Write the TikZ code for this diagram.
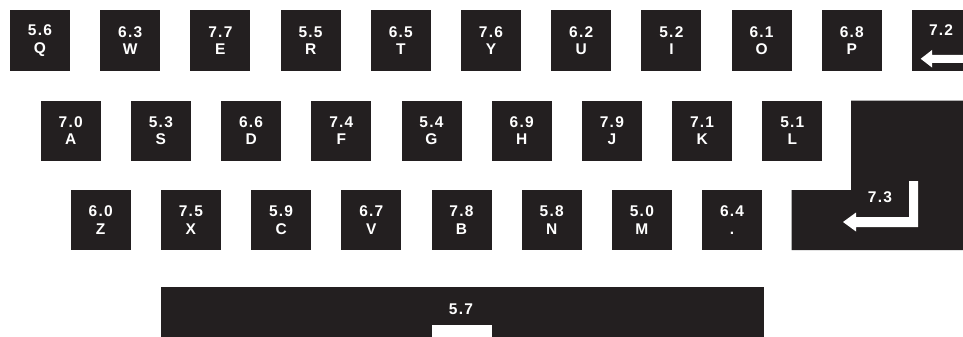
\documentclass[tikz,border=0pt]{standalone}
\usepackage{fontspec}
\setmainfont{Liberation Sans}
\newfontfamily\keyfont[LetterSpace=8]{Liberation Sans}
\definecolor{keyblack}{HTML}{231F20}
\tikzset{
  key/.style={fill=keyblack, minimum width=60pt, minimum height=60pt, inner sep=0pt,
    text=white, align=center, font=\keyfont\bfseries\fontsize{15.5}{17.5}\selectfont},
  keylabel/.style={text=white, inner sep=0pt, font=\keyfont\bfseries\fontsize{15.5}{17.5}\selectfont},
  glyph/.style={fill=white, draw=none}
}
\begin{document}
\begin{tikzpicture}[x=1pt, y=-1pt]
  \useasboundingbox (0,0) rectangle (963,337);
  \clip (0,0) rectangle (963,337);
  % top row
  \foreach \val/\lbl [count=\i from 0] in {5.6/Q, 6.3/W, 7.7/E, 5.5/R, 6.5/T, 7.6/Y, 6.2/U, 5.2/I, 6.1/O, 6.8/P}
    \node[key] (k\lbl) at (40+90.2*\i, 40.5) {\val\\\lbl};
  % home row
  \foreach \val/\lbl [count=\i from 0] in {7.0/A, 5.3/S, 6.6/D, 7.4/F, 5.4/G, 6.9/H, 7.9/J, 7.1/K, 5.1/L}
    \node[key] (k\lbl) at (70.7+90.2*\i, 130.5) {\val\\\lbl};
  % bottom row
  \foreach \val/\lbl/\nm [count=\i from 0] in {6.0/Z/Z, 7.5/X/X, 5.9/C/C, 6.7/V/V, 7.8/B/B, 5.8/N/N, 5.0/M/M, 6.4/./dot}
    \node[key] (k\nm) at (100.7+90.2*\i, 220) {\val\\\lbl};

  % backspace
  \node[key, minimum width=70pt, anchor=west] (kback) at (911.8, 40.5) {};
  \node[keylabel] (lback) at (941, 30) {7.2};
  \fill[glyph] (920.7,58.8) -- (932,50) -- (932,55) -- (975,55) -- (975,63) -- (932,63) -- (932,67.5) -- cycle;

  % enter
  \fill[keyblack] (851,100.5) -- (975,100.5) -- (975,250) -- (791.7,250) -- (791.7,190) -- (851,190) -- cycle;
  \node[keylabel] (lenter) at (880, 197) {7.3};
  \fill[glyph] (843,222) -- (856,212.5) -- (856,217) -- (909,217) -- (909,181) -- (918,181)
    -- (918,227) -- (856,227) -- (856,231.5) -- cycle;

  % space bar
  \node[key, minimum width=603.5pt, anchor=north west] (kspace) at (160.5, 287) {};
  \node[keylabel] (lspace) at (461, 309) {5.7};
  \fill[glyph] (431.7,325) rectangle (491.7,340);
\end{tikzpicture}
\end{document}
